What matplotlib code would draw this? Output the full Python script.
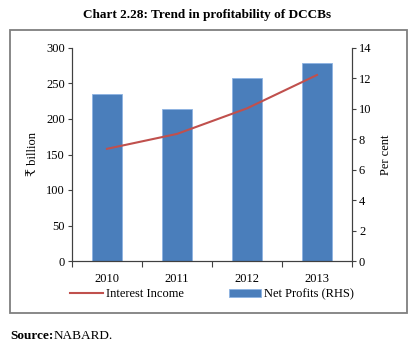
import matplotlib.pyplot as plt
from matplotlib.patches import Rectangle

years = ['2010', '2011', '2012', '2013']
interest_income = [158, 179, 215, 262]   # ₹ billion, left axis
net_profits = [11, 10, 12, 13]           # per cent, right axis

plt.rcParams['font.family'] = ['Liberation Serif', 'DejaVu Serif', 'DejaVu Sans']

fig = plt.figure(figsize=(4.19, 3.47), dpi=100)

# outer frame round the chart
fig.patches.append(Rectangle((10 / 419, 1 - 313 / 347), 397 / 419, 283 / 347,
                             transform=fig.transFigure, fill=False,
                             edgecolor='#7f7f7f', linewidth=1.3))

ax = fig.add_axes([72 / 419, 86 / 347, 280 / 419, 213 / 347])
ax2 = ax.twinx()

x = range(len(years))
bars = ax2.bar(x, net_profits, width=0.42, color='#4a7ebb', edgecolor='#8db3e2',
               linewidth=0.6, zorder=1)
line, = ax.plot(x, interest_income, color='#c0504d', linewidth=1.5, zorder=3)
ax.set_zorder(ax2.get_zorder() + 1)
ax.patch.set_visible(False)

ax.set_xlim(-0.5, 3.5)
ax.set_ylim(0, 300)
ax.set_yticks(range(0, 301, 50))
ax2.set_ylim(0, 14)
ax2.set_yticks(range(0, 15, 2))

# boundary ticks between years, labels centred under each bar
ax.set_xticks([i - 0.5 for i in range(5)])
ax.set_xticks(list(x), minor=True)
ax.set_xticklabels([])
ax.set_xticklabels(years, minor=True)
ax.tick_params(axis='x', which='major', length=4, direction='out', color='#404040')
ax.tick_params(axis='x', which='minor', length=0, pad=9, labelsize=9)
ax.tick_params(axis='y', length=3, direction='out', labelsize=9, color='#404040', pad=2)
ax2.tick_params(axis='y', length=3, direction='out', labelsize=9, color='#404040', pad=2)

for a in (ax, ax2):
    a.spines['top'].set_visible(False)
    for s in ('left', 'right', 'bottom'):
        a.spines[s].set_color('#404040')
        a.spines[s].set_linewidth(0.8)

ax.set_ylabel('₹ billion', fontsize=9, labelpad=5)
ax2.set_ylabel('Per cent', fontsize=9, labelpad=6)

fig.legend([line, bars], ['Interest Income', 'Net Profits (RHS)'],
           loc='center', bbox_to_anchor=(212 / 419, 1 - 294 / 347), ncol=2,
           frameon=False, fontsize=9, handlelength=2.6, handleheight=0.6,
           columnspacing=3.6, handletextpad=0.25)

fig.text(207 / 419, 1 - 15 / 347, 'Chart 2.28: Trend in profitability of DCCBs',
         ha='center', va='center', fontsize=9.5, fontweight='bold')
fig.text(10 / 419, 1 - 336 / 347, 'Source:', ha='left', va='center',
         fontsize=9.5, fontweight='bold')
fig.text(54 / 419, 1 - 336 / 347, 'NABARD.', ha='left', va='center', fontsize=9.5)

fig.savefig('out.png', dpi=100)
